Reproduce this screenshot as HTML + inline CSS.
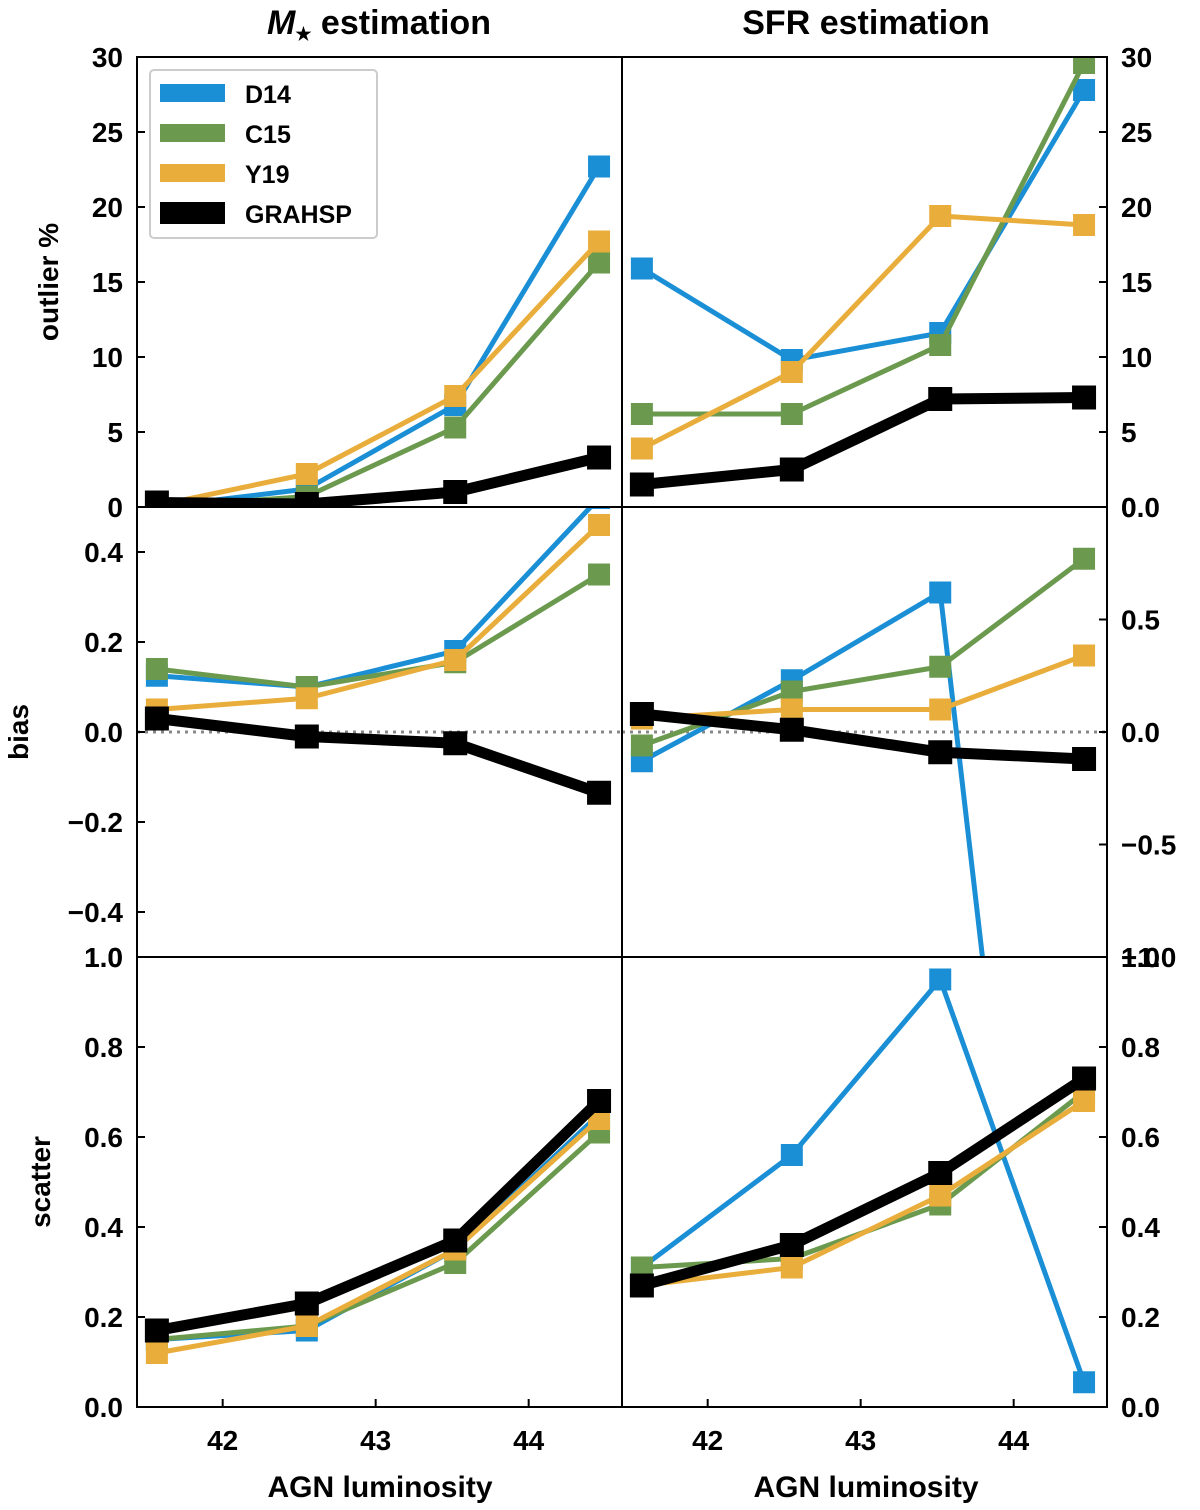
<!DOCTYPE html>
<html><head><meta charset="utf-8"><style>
html,body{margin:0;padding:0;background:#fff;width:1200px;height:1510px;overflow:hidden}
svg{display:block}
svg text{font-family:"Liberation Sans",sans-serif;font-weight:bold;fill:#000}
</style></head><body>
<svg id="c" width="1200" height="1510" xmlns="http://www.w3.org/2000/svg"></svg>
<script>
const xs=[41.57,42.55,43.52,44.46];
const xTicks=[42,43,44];
const series=['D14','C15','Y19','GRAHSP'];
const colors=['#1a8fd6','#6b9a4f','#e9ad3b','#000000'];
const outL=[[0,1.2,6.8,22.7],[0,0.7,5.3,16.3],[0.1,2.2,7.4,17.7],[0.3,0.2,1.0,3.3]];
const outR=[[15.9,9.8,11.6,27.8],[6.2,6.2,10.8,29.6],[3.9,9.0,19.4,18.8],[1.5,2.5,7.2,7.3]];
const biasL=[[0.125,0.10,0.18,0.52],[0.14,0.10,0.155,0.35],[0.05,0.075,0.16,0.46],[0.03,-0.01,-0.025,-0.135]];
const biasR=[[-0.13,0.23,0.62,-4.9],[-0.06,0.18,0.29,0.77],[0.06,0.10,0.10,0.34],[0.08,0.01,-0.09,-0.12]];
const scatL=[[0.15,0.17,0.35,0.65],[0.15,0.18,0.32,0.61],[0.12,0.18,0.35,0.64],[0.17,0.23,0.37,0.68]];
const scatR=[[0.31,0.56,0.95,0.055],[0.31,0.33,0.45,0.70],[0.27,0.31,0.47,0.68],[0.27,0.36,0.52,0.73]];
const outTicks=[0,5,10,15,20,25,30];
const biasLTicks=[-0.4,-0.2,0,0.2,0.4];
const biasRTicks=[-1.0,-0.5,0,0.5];
const scatTicks=[0,0.2,0.4,0.6,0.8,1.0];
const svg=document.getElementById('c');const NS='http://www.w3.org/2000/svg';
function el(t,a,p){const e=document.createElementNS(NS,t);for(const k in a)e.setAttribute(k,a[k]);(p||svg).appendChild(e);return e;}
const defs=el('defs',{});
const rows=[57,507,957],H=450,cols=[137,622],W=485;
const xmin=41.44,xmax=44.61;
function X(c,v){return cols[c]+(v-xmin)/(xmax-xmin)*W;}
function clipSeg(a,b,y0,y1){
 let [ax,ay]=a,[bx,by]=b;
 const lim=(px,py,qx,qy)=>{ // move p inside toward q
  if(py<y0){const t=(y0-py)/(qy-py);return [px+(qx-px)*t,y0];}
  if(py>y1){const t=(y1-py)/(qy-py);return [px+(qx-px)*t,y1];}
  return [px,py];};
 if((ay<y0&&by<y0)||(ay>y1&&by>y1))return null;
 const na=lim(ax,ay,bx,by),nb=lim(bx,by,ax,ay);return [na,nb];}
const panels=[
 {r:0,c:0,data:outL,lo:0,hi:30,ticks:outTicks,fmt:v=>String(v),name:'outlier-mstar'},
 {r:0,c:1,data:outR,lo:0,hi:30,ticks:outTicks,fmt:v=>String(v),name:'outlier-sfr'},
 {r:1,c:0,data:biasL,lo:-0.5,hi:0.5,ticks:biasLTicks,fmt:v=>(v<0?'−':'')+Math.abs(v).toFixed(1),name:'bias-mstar',zero:1},
 {r:1,c:1,data:biasR,lo:-1,hi:1,ticks:biasRTicks,fmt:v=>(v<0?'−':'')+Math.abs(v).toFixed(1),name:'bias-sfr',zero:1},
 {r:2,c:0,data:scatL,lo:0,hi:1,ticks:scatTicks,fmt:v=>v.toFixed(1),name:'scatter-mstar'},
 {r:2,c:1,data:scatR,lo:0,hi:1,ticks:scatTicks,fmt:v=>v.toFixed(1),name:'scatter-sfr'}];
panels.forEach((p,i)=>{
 const top=rows[p.r],left=cols[p.c];
 const Y=v=>top+H-(v-p.lo)/(p.hi-p.lo)*H;
 const cp=el('clipPath',{id:'cp'+i},defs);el('rect',{x:left,y:top,width:W,height:H},cp);
 const g=el('g',{'clip-path':'url(#cp'+i+')'});
 
 if(p.zero){const z=el('line',{x1:left,x2:left+W,y1:Y(0),y2:Y(0),stroke:'#888','stroke-width':3,'stroke-dasharray':'3,5'},g);
  }
 p.data.forEach((s,k)=>{
  const big=k===3;
  const pts=s.map((v,j)=>[X(p.c,xs[j]),Y(v)]);
  let d='';
  for(let j=0;j<pts.length-1;j++){const sg=clipSeg(pts[j],pts[j+1],top-3,top+H+3);
   if(sg)d+='M'+sg[0][0]+','+sg[0][1]+'L'+sg[1][0]+','+sg[1][1];}
  const pl=el('path',{d:d,fill:'none',stroke:colors[k],'stroke-width':big?11:5,'stroke-linejoin':'round','stroke-linecap':'round'},g);
  
  s.forEach((v,j)=>{const sz=big?24:22;const y=Y(v);
   if(y<top-sz/2||y>top+H+sz/2)return;
   const m=el('rect',{x:X(p.c,xs[j])-sz/2,y:y-sz/2,width:sz,height:sz,fill:colors[k]},g);
   });
 });
 const fr=el('rect',{x:left,y:top,width:W,height:H,fill:'none',stroke:'#000','stroke-width':2});
 
 p.ticks.forEach(v=>{const y=Y(v);
  if(p.c===0){el('line',{x1:left,x2:left+8,y1:y,y2:y,stroke:'#000','stroke-width':2});
   const t=el('text',{x:left-14,y:y+10,'text-anchor':'end','font-size':28});t.textContent=p.fmt(v);
   }
  else{el('line',{x1:left+W-8,x2:left+W,y1:y,y2:y,stroke:'#000','stroke-width':2});
   const t=el('text',{x:left+W+14,y:y+10,'text-anchor':'start','font-size':28});t.textContent=p.fmt(v);
   }
 });
 if(p.c===1&&p.r===0){const t=el('text',{x:left+W+14,y:top+H+10,'font-size':28});t.textContent='0.0';
  }
 if(p.c===1&&p.r===1){const t=el('text',{x:left+W+14,y:top+H+10,'font-size':28});t.textContent='1.0';
  }
 if(p.c===0&&p.r===1){const t=el('text',{x:left-14,y:top+H+10,'text-anchor':'end','font-size':28});t.textContent='1.0';
  }
 if(p.r===2) xTicks.forEach(v=>{const x=X(p.c,v);
  el('line',{x1:x,x2:x,y1:top+H-8,y2:top+H,stroke:'#000','stroke-width':2});
  const t=el('text',{x:x,y:top+H+43,'text-anchor':'middle','font-size':28});t.textContent=v;
  });
});
function txt(s,a,name){const t=el('text',a);t.textContent=s;return t;}
const t1=el('text',{x:379,y:34,'text-anchor':'middle','font-size':34});

t1.innerHTML='<tspan font-style="italic">M</tspan><tspan font-size="18" dy="6">★</tspan><tspan dy="-6"> estimation</tspan>';
txt('SFR estimation',{x:866,y:34,'text-anchor':'middle','font-size':34},'title-sfr');
txt('AGN luminosity',{x:380,y:1497,'text-anchor':'middle','font-size':30},'x-axis-title-left');
txt('AGN luminosity',{x:866,y:1497,'text-anchor':'middle','font-size':30},'x-axis-title-right');
txt('outlier %',{x:0,y:0,'text-anchor':'middle','font-size':28,transform:'translate(58,282) rotate(-90)'},'y-axis-title-outlier');
txt('bias',{x:0,y:0,'text-anchor':'middle','font-size':28,transform:'translate(28,732) rotate(-90)'},'y-axis-title-bias');
txt('scatter',{x:0,y:0,'text-anchor':'middle','font-size':28,transform:'translate(50,1182) rotate(-90)'},'y-axis-title-scatter');
const lg=el('g',{});
el('rect',{x:150,y:70,width:227,height:168,rx:4,fill:'#fff','fill-opacity':0.85,stroke:'#ccc','stroke-width':2},lg);
series.forEach((s,k)=>{const y=93+k*40;
 const r=el('rect',{x:160,y:y-(k===3?11:9),width:65,height:k===3?22:18,fill:colors[k]},lg);
 
 const t=el('text',{x:245,y:y+10,'font-size':25},lg);t.textContent=s;
 });
</script>
</body></html>
